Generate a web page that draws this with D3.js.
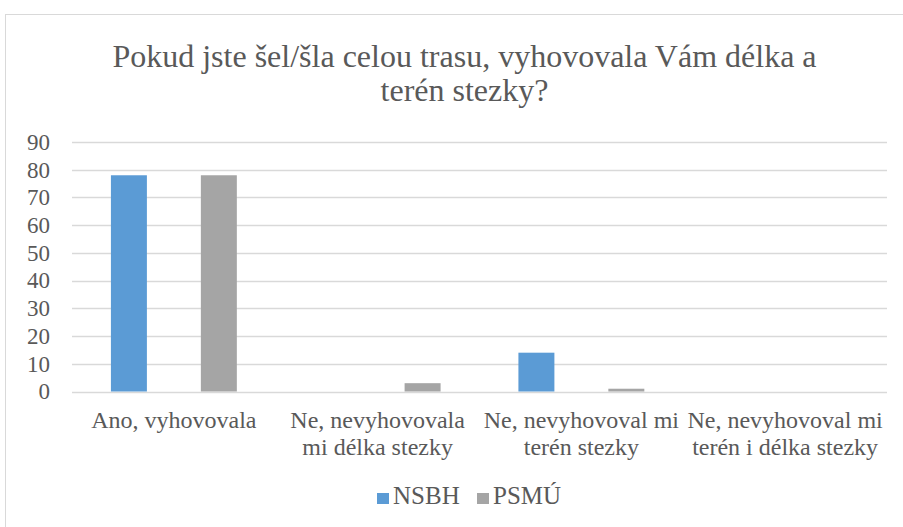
<!DOCTYPE html>
<html>
<head>
<meta charset="utf-8">
<script src="https://cdn.jsdelivr.net/npm/d3@7"></script>
<style>
  body { margin: 0; background: #fff; }
</style>
</head>
<body>
<script>
const categories = ['Ano, vyhovovala', 'Ne, nevyhovovala mi délka stezky', 'Ne, nevyhovoval mi terén stezky', 'Ne, nevyhovoval mi terén i délka stezky'];
const categoryLines = [
  ['Ano, vyhovovala'],
  ['Ne, nevyhovovala', 'mi délka stezky'],
  ['Ne, nevyhovoval mi', 'terén stezky'],
  ['Ne, nevyhovoval mi', 'terén i délka stezky'],
];
const seriesNames = ['NSBH', 'PSMÚ'];
const nsbhValues = [78, 0, 14, 0];
const psmuValues = [78, 3, 1, 0];
const yTicks = [0, 10, 20, 30, 40, 50, 60, 70, 80, 90];
const titleLines = ['Pokud jste šel/šla celou trasu, vyhovovala Vám délka a', 'terén stezky?'];

const colors = { NSBH: '#5B9BD5', 'PSMÚ': '#A5A5A5' };
const serif = "'Liberation Serif', 'DejaVu Serif', Tinos, serif";
const textColor = '#595959';
const width = 903;
const height = 527;
const plot = { left: 72, right: 887, top: 142, bottom: 391.5 };

const svg = d3.select('body').append('svg')
  .attr('width', width)
  .attr('height', height)
  .style('font-family', serif);

svg.append('rect')
  .attr('width', width).attr('height', height).attr('fill', '#fff');

// chart border
svg.append('rect')
  .attr('x', 5.5).attr('y', 14.5)
  .attr('width', width + 10).attr('height', height + 10)
  .attr('fill', 'none')
  .attr('stroke', '#D9D9D9')
  .attr('stroke-width', 1);

// title
svg.append('text')
  .attr('text-anchor', 'middle')
  .attr('fill', textColor)
  .style('font-size', '32px')
  .selectAll('tspan')
  .data(titleLines)
  .join('tspan')
  .attr('x', (plot.left + plot.right) / 2 - 15)
  .attr('y', (d, i) => 67 + i * 34)
  .text(d => d);

const x0 = d3.scaleBand()
  .domain(categories)
  .range([plot.left, plot.right])
  .paddingInner(0.382)
  .paddingOuter(0.191);

const x1 = d3.scaleBand()
  .domain(seriesNames)
  .range([0, x0.bandwidth()])
  .paddingInner(0.6);

const y = d3.scaleLinear()
  .domain([0, 90])
  .range([plot.bottom, plot.top]);

// gridlines
svg.append('g')
  .selectAll('line')
  .data(yTicks)
  .join('line')
  .attr('x1', plot.left).attr('x2', plot.right)
  .attr('y1', d => Math.round(y(d)) + 0.5)
  .attr('y2', d => Math.round(y(d)) + 0.5)
  .attr('stroke', '#D9D9D9')
  .attr('stroke-width', 1.5);

// y axis labels
const yAxis = d3.axisLeft(y).tickValues(yTicks).tickSize(0).tickPadding(0);
svg.append('g')
  .attr('transform', `translate(${plot.left - 22}, 0)`)
  .call(yAxis)
  .attr('font-family', serif)
  .attr('font-size', 23)
  .call(g => g.select('.domain').remove())
  .call(g => g.selectAll('text').attr('fill', textColor));

// bars
const data = categories.map((c, i) => ({ category: c, NSBH: nsbhValues[i], 'PSMÚ': psmuValues[i] }));

svg.append('g')
  .selectAll('g')
  .data(data)
  .join('g')
  .attr('transform', d => `translate(${x0(d.category)}, 0)`)
  .selectAll('rect')
  .data(d => seriesNames.map(s => ({ key: s, value: d[s] })))
  .join('rect')
  .attr('x', d => x1(d.key))
  .attr('width', x1.bandwidth())
  .attr('y', d => y(d.value))
  .attr('height', d => y(0) - y(d.value))
  .attr('fill', d => colors[d.key]);

// category labels
svg.append('g')
  .attr('font-size', 24)
  .attr('fill', textColor)
  .selectAll('text')
  .data(categories)
  .join('text')
  .attr('text-anchor', 'middle')
  .selectAll('tspan')
  .data((d, i) => categoryLines[i].map(line => ({ line, c: d })))
  .join('tspan')
  .attr('x', d => x0(d.c) + x0.bandwidth() / 2)
  .attr('y', (d, i) => 428 + i * 27)
  .text(d => d.line);

// legend
const legend = svg.append('g')
  .attr('font-size', 25)
  .attr('fill', textColor)
  .selectAll('g')
  .data(seriesNames)
  .join('g')
  .attr('transform', (d, i) => `translate(${377 + i * 100}, 0)`);

legend.append('rect')
  .attr('x', 0).attr('y', 493)
  .attr('width', 12).attr('height', 11)
  .attr('fill', d => colors[d]);

legend.append('text')
  .attr('x', 16).attr('y', 504)
  .text(d => d);
</script>
</body>
</html>
